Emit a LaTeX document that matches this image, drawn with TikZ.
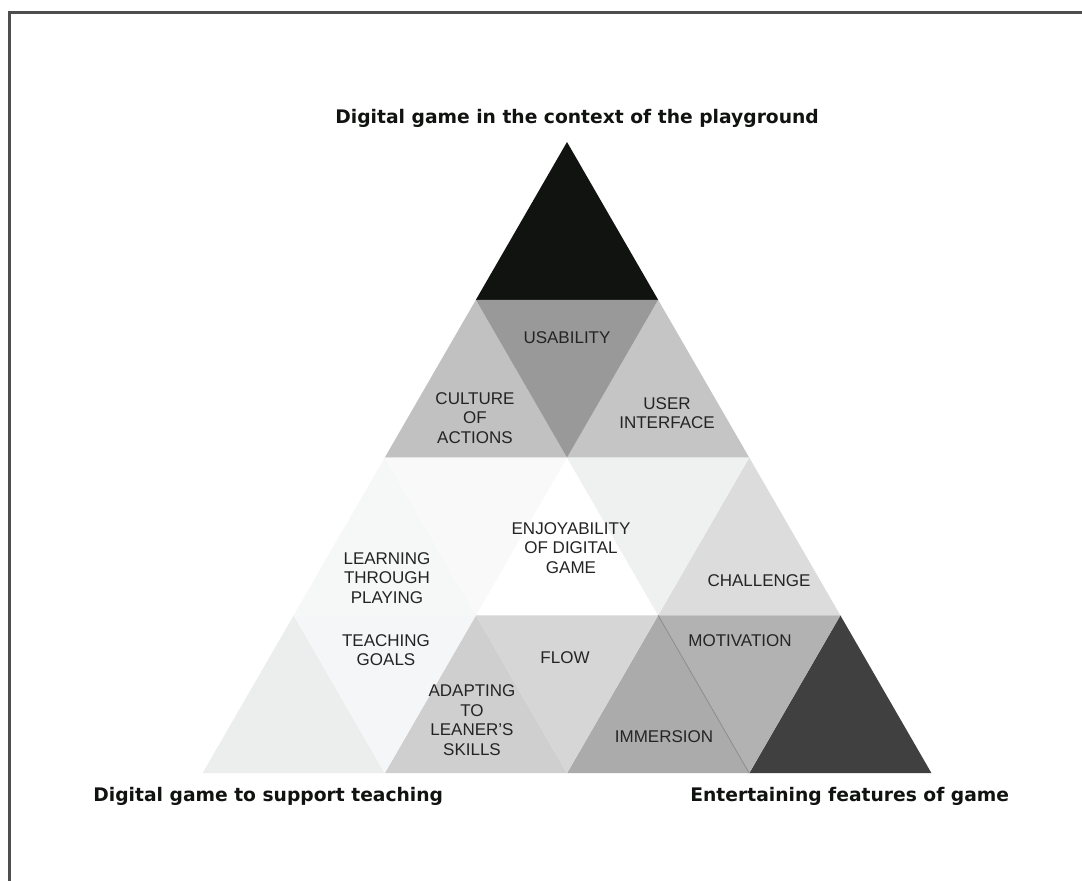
\documentclass[tikz,border=0pt]{standalone}
\usepackage{fontspec}
\setmainfont{Liberation Sans}
\newfontfamily\headfont{DejaVu Sans}
\usepackage{tikz}
\usetikzlibrary{calc}
\definecolor{FrameGray}{RGB}{78,78,78}
\definecolor{LabelGray}{RGB}{36,36,36}
\definecolor{EdgeGray}{RGB}{140,140,140}
\definecolor{TriBlack}{RGB}{17,19,17}
\definecolor{TriDark}{RGB}{64,64,64}
\definecolor{TriMid}{RGB}{153,153,153}
\definecolor{TriC1}{RGB}{193,193,193}
\definecolor{TriC2}{RGB}{197,197,197}
\definecolor{TriC3}{RGB}{246,247,247}
\definecolor{TriC4}{RGB}{249,249,249}
\definecolor{TriC5}{RGB}{239,240,240}
\definecolor{TriC6}{RGB}{220,220,220}
\definecolor{TriC7}{RGB}{236,238,238}
\definecolor{TriC8}{RGB}{245,246,247}
\definecolor{TriC9}{RGB}{207,207,207}
\definecolor{TriC10}{RGB}{214,214,214}
\definecolor{TriC11}{RGB}{171,171,171}
\definecolor{TriC12}{RGB}{178,178,178}

\begin{document}
\begin{tikzpicture}[x=0.5pt, y=-0.5pt,
	cell/.style={align=center, inner sep=0pt, text=LabelGray,
		font=\fontsize{8.5}{9.75}\selectfont},
	head/.style={anchor=base west, inner sep=0pt, text=TriBlack,
		font=\headfont\bfseries\fontsize{9.35}{11}\selectfont}]
	\useasboundingbox (0,0) rectangle (1082,880);
	\fill[white] (0,0) rectangle (1082,880);
	\draw[FrameGray, line width=1.5pt] (9,900) -- (9,12) -- (1100,12);
	\foreach \k in {0,...,4}{
		\foreach \i in {0,...,\k}{
			\coordinate (p\i\k) at ({567+(\i-\k/2)*182.25},{142+\k*157.8});
		}
	}
	\foreach \i/\k/\c [evaluate=\i as \ii using int(\i+1),
		evaluate=\k as \kk using int(\k+1)] in {
		0/0/TriBlack,
		0/1/TriC1, 1/1/TriC2,
		0/2/TriC3, 1/2/white, 2/2/TriC6,
		0/3/TriC7, 1/3/TriC9, 2/3/TriC11, 3/3/TriDark}{
		\fill[\c] (p\i\k) -- (p\i\kk) -- (p\ii\kk) -- cycle;
	}
	\foreach \i/\k/\c [evaluate=\i as \ii using int(\i+1),
		evaluate=\k as \kk using int(\k+1)] in {
		0/1/TriMid,
		0/2/TriC4, 1/2/TriC5,
		0/3/TriC8, 1/3/TriC10, 2/3/TriC12}{
		\fill[\c] (p\i\k) -- (p\ii\k) -- (p\ii\kk) -- cycle;
	}
	\draw[EdgeGray, line width=0.4pt] (p23) -- (p34);
	\foreach \n/\x/\y/\t in {
		usability/567/338/{USABILITY},
		culture/475/418/{CULTURE\\OF\\ACTIONS},
		interface/667/413/{USER\\INTERFACE},
		learning/387/578/{LEARNING\\THROUGH\\PLAYING},
		enjoy/571/548/{ENJOYABILITY\\OF DIGITAL\\GAME},
		challenge/759/581/{CHALLENGE},
		teaching/386/650/{TEACHING\\GOALS},
		flow/565/658/{FLOW},
		adapting/472/720/{ADAPTING\\TO\\LEANER'S\\SKILLS},
		motivation/740/641/{MOTIVATION},
		immersion/664/737/{IMMERSION}}{
		\node[cell] (\n) at (\x,\y) {\t};
	}
	\node[head] (playground) at (335,123) {Digital game in the context of the playground};
	\node[head] (teachinghead) at (93,801) {Digital game to support teaching};
	\node[head] (entertain) at (690,801) {Entertaining features of game};
\end{tikzpicture}
\end{document}
